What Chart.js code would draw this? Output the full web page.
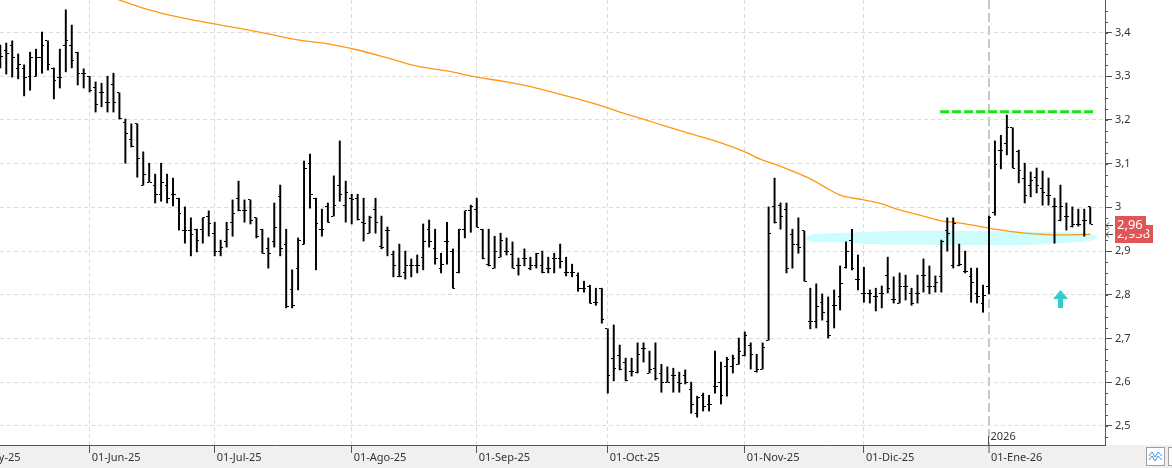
<!DOCTYPE html>
<html lang="es">
<head>
<meta charset="utf-8">
<title>Gráfico diario</title>
<script src="https://cdn.jsdelivr.net/npm/chart.js@4.4.1/dist/chart.umd.min.js"></script>
<style>
  html, body { margin: 0; padding: 0; background: #fff; }
  #wrap { position: relative; width: 1172px; height: 468px; }
</style>
</head>
<body>
<div id="wrap"><canvas id="chart"></canvas></div>
<script>
// ---- datos (barras diarias, desde 12-May-25 hasta 27-Ene-26) ----
const opens = [
  3.344,3.360,3.371,3.317,3.317,3.300,3.300,3.342,3.381,3.317,
  3.296,3.371,3.371,3.355,3.307,3.300,3.275,3.262,3.241,3.282,
  3.262,3.195,3.156,3.191,3.051,3.058,3.051,3.030,3.051,3.030,
  3.021,2.946,2.946,2.950,2.950,2.980,2.941,2.900,2.921,2.966,
  3.021,2.992,3.017,2.976,2.950,2.905,2.921,3.024,2.916,2.811,
  2.861,2.916,3.101,3.021,2.950,3.001,2.980,3.051,3.005,3.021,
  3.021,2.966,2.941,2.996,2.911,2.946,2.891,2.841,2.850,2.866,
  2.866,2.886,2.950,2.905,2.861,2.921,2.900,2.850,2.950,2.992,
  2.996,2.950,2.870,2.861,2.886,2.900,2.891,2.866,2.882,2.861,
  2.866,2.866,2.861,2.882,2.882,2.850,2.850,2.845,2.815,2.818,
  2.783,2.815,2.722,2.655,2.660,2.644,2.625,2.623,2.678,2.621,
  2.632,2.621,2.600,2.616,2.600,2.616,2.584,2.529,2.570,2.550,
  2.589,2.600,2.635,2.635,2.641,2.660,2.685,2.625,2.630,2.696,
  3.001,3.005,2.996,2.937,2.916,2.946,2.738,2.738,2.783,2.738,
  2.776,2.795,2.863,2.925,2.836,2.802,2.802,2.795,2.804,2.845,
  2.790,2.781,2.820,2.804,2.802,2.845,2.820,2.820,2.841,2.946,
  2.866,2.866,2.854,2.841,2.802,2.781,2.820,2.989,3.131,3.147,
  3.182,3.127,3.067,3.051,3.069,3.042,3.028,3.001,2.969,2.980,
  2.957,2.960,2.971,3.001
];
const highs = [
  3.371,3.376,3.381,3.351,3.326,3.355,3.362,3.401,3.381,3.319,
  3.362,3.452,3.417,3.355,3.317,3.300,3.287,3.284,3.300,3.307,
  3.262,3.202,3.191,3.191,3.127,3.101,3.076,3.101,3.076,3.067,
  3.021,3.001,2.976,2.950,2.976,2.992,2.966,2.925,2.966,3.017,
  3.060,3.017,3.017,2.976,2.950,2.930,3.010,3.051,2.950,2.857,
  2.930,3.106,3.122,3.021,2.996,3.010,3.072,3.152,3.060,3.030,
  3.030,3.021,2.980,3.021,2.980,2.955,2.900,2.916,2.900,2.882,
  2.891,2.962,2.971,2.950,2.895,2.966,2.905,2.950,2.992,3.005,
  3.021,2.950,2.950,2.934,2.941,2.930,2.921,2.884,2.905,2.886,
  2.895,2.900,2.886,2.895,2.916,2.886,2.870,2.850,2.831,2.822,
  2.815,2.815,2.722,2.731,2.685,2.655,2.655,2.690,2.690,2.671,
  2.690,2.641,2.635,2.632,2.623,2.628,2.600,2.568,2.575,2.570,
  2.671,2.646,2.657,2.662,2.701,2.715,2.690,2.664,2.690,3.001,
  3.067,3.010,3.010,2.950,2.976,2.946,2.815,2.825,2.802,2.795,
  2.811,2.866,2.921,2.950,2.891,2.863,2.811,2.815,2.820,2.886,
  2.841,2.850,2.845,2.815,2.845,2.882,2.866,2.843,2.925,2.976,
  2.976,2.916,2.900,2.861,2.861,2.822,2.980,3.152,3.165,3.211,
  3.182,3.131,3.101,3.081,3.090,3.083,3.067,3.021,3.051,3.010,
  3.001,2.996,2.996,3.001
];
const lows = [
  3.319,3.305,3.298,3.294,3.255,3.268,3.300,3.307,3.314,3.248,
  3.273,3.310,3.319,3.280,3.273,3.264,3.218,3.230,3.218,3.218,
  3.202,3.101,3.138,3.069,3.051,3.058,3.010,3.014,3.010,3.003,
  2.948,2.918,2.889,2.898,2.918,2.934,2.889,2.889,2.909,2.934,
  2.992,2.966,2.962,2.930,2.895,2.861,2.909,2.889,2.770,2.770,
  2.811,2.916,2.998,2.857,2.934,2.966,2.980,3.014,2.966,2.962,
  2.971,2.923,2.941,2.941,2.905,2.889,2.841,2.841,2.836,2.841,
  2.850,2.857,2.909,2.870,2.850,2.870,2.815,2.850,2.930,2.943,
  2.955,2.882,2.866,2.861,2.886,2.891,2.861,2.845,2.866,2.857,
  2.861,2.850,2.850,2.850,2.861,2.843,2.841,2.808,2.806,2.781,
  2.776,2.735,2.575,2.603,2.628,2.603,2.614,2.621,2.646,2.621,
  2.605,2.577,2.600,2.577,2.577,2.596,2.529,2.520,2.534,2.534,
  2.575,2.550,2.568,2.621,2.641,2.660,2.630,2.623,2.630,2.696,
  2.964,2.950,2.850,2.861,2.895,2.831,2.722,2.724,2.742,2.701,
  2.724,2.765,2.861,2.857,2.811,2.783,2.781,2.763,2.770,2.804,
  2.781,2.781,2.788,2.776,2.781,2.806,2.802,2.806,2.806,2.900,
  2.861,2.866,2.850,2.783,2.781,2.760,2.802,2.982,3.088,3.120,
  3.090,3.056,3.010,3.024,3.033,3.005,3.005,2.918,2.969,2.948,
  2.955,2.957,2.934,2.962
];
const closes = [
  3.344,3.351,3.342,3.326,3.298,3.342,3.342,3.371,3.326,3.291,
  3.296,3.381,3.337,3.307,3.307,3.268,3.236,3.262,3.241,3.241,
  3.204,3.170,3.140,3.111,3.076,3.058,3.030,3.056,3.021,3.030,
  2.985,2.946,2.939,2.925,2.976,2.962,2.900,2.909,2.950,2.985,
  2.992,2.992,2.971,2.934,2.895,2.895,2.955,2.905,2.774,2.776,
  2.925,3.090,3.030,2.962,2.950,2.966,3.005,3.030,3.035,3.017,
  2.973,2.962,2.976,2.966,2.909,2.946,2.866,2.841,2.866,2.866,
  2.866,2.921,2.921,2.882,2.870,2.921,2.815,2.950,2.992,3.001,
  2.955,2.882,2.866,2.900,2.925,2.900,2.861,2.866,2.882,2.866,
  2.895,2.850,2.861,2.882,2.875,2.850,2.850,2.815,2.815,2.781,
  2.783,2.744,2.616,2.632,2.630,2.605,2.625,2.664,2.678,2.630,
  2.609,2.600,2.600,2.616,2.596,2.600,2.550,2.564,2.545,2.550,
  2.589,2.570,2.653,2.655,2.671,2.706,2.664,2.630,2.680,2.941,
  2.966,2.980,2.861,2.916,2.909,2.831,2.738,2.774,2.760,2.706,
  2.776,2.825,2.900,2.861,2.836,2.802,2.802,2.795,2.804,2.815,
  2.790,2.820,2.820,2.779,2.802,2.845,2.820,2.829,2.923,2.941,
  2.964,2.870,2.854,2.827,2.795,2.799,2.976,3.097,3.131,3.182,
  3.090,3.085,3.028,3.062,3.051,3.033,3.028,3.001,3.001,2.980,
  2.960,2.960,2.971,2.960
];

// media móvil (lecturas sobre el gráfico, índice de barra -> valor)
const maIdx  = [19, 25, 30, 35, 40, 45, 50, 55, 60, 65, 70, 75, 80, 85, 90, 95, 100, 105, 110, 115, 120, 125, 128, 130, 133, 136, 139, 141, 145, 148, 151, 155, 158, 160, 163, 167, 172, 178, 183];
const maVals = [3.479, 3.452, 3.435, 3.422, 3.410, 3.397, 3.383, 3.374, 3.360, 3.342, 3.323, 3.312, 3.298, 3.287, 3.273, 3.255, 3.236, 3.214, 3.193, 3.172, 3.152, 3.127, 3.108, 3.099, 3.083, 3.065, 3.042, 3.028, 3.017, 3.008, 2.994, 2.980, 2.969, 2.966, 2.960, 2.950, 2.941, 2.937, 2.938];

// eje x: primer día de cada mes
const monthIdx = [-6, 15, 36, 59, 80, 102, 125, 145, 166];
const monthLabels = ['01-May-25', '01-Jun-25', '01-Jul-25', '01-Ago-25', '01-Sep-25', '01-Oct-25', '01-Nov-25', '01-Dic-25', '01-Ene-26'];
const yearIdx = 166;
const yearLabel = '2026';

// eje y
const yTicks = [2.5, 2.6, 2.7, 2.8, 2.9, 3.0, 3.1, 3.2, 3.3, 3.4];
const yTickLabels = ['2,5', '2,6', '2,7', '2,8', '2,9', '3', '3,1', '3,2', '3,3', '3,4'];

// dibujos: resistencia, zona de soporte, flecha
const resistIdx = [157.8, 183.5];
const resistPrice = 3.219;
const bandIdx    = [135.3, 136.8, 140.2, 144.4, 150.3, 161.2, 171.3, 178, 182.7, 184.2];
const bandTop    = [2.933, 2.939, 2.941, 2.943, 2.946, 2.946, 2.945, 2.943, 2.941, 2.934];
const bandBottom = [2.925, 2.921, 2.920, 2.917, 2.915, 2.914, 2.914, 2.918, 2.923, 2.930];
const arrowIdx = 178;
const arrowPrice = 2.79;

// etiquetas de precio
const lastPrice = 2.96, lastPriceLabel = '2,96';
const maLast = 2.938, maLastLabel = '2,938';

const FONT = '"Noto Sans", "Open Sans", sans-serif';

// marcas de apertura / cierre
function tickImage(side) {
  const c = document.createElement('canvas');
  c.width = 5; c.height = 1;
  const g = c.getContext('2d');
  g.fillStyle = '#000';
  g.fillRect(side === 'left' ? 0 : 3, 0, 2, 1);
  return c;
}

function arrowImage() {
  const c = document.createElement('canvas');
  c.width = 15; c.height = 18;
  const g = c.getContext('2d');
  g.fillStyle = '#33cccc';
  g.beginPath();
  g.moveTo(7.5, 0); g.lineTo(15, 9); g.lineTo(0, 9);
  g.closePath(); g.fill();
  g.fillRect(5, 9, 5, 9);
  return c;
}

function priceTag(ctx, x0, py, text) {
  py = Math.round(py);
  ctx.font = '13px ' + FONT;
  const w = Math.round(ctx.measureText(text).width) + 5;
  ctx.fillStyle = '#e05656';
  ctx.fillRect(x0 + 10, py - 9, w, 18);
  ctx.fillStyle = '#fff';
  ctx.textAlign = 'left';
  ctx.textBaseline = 'middle';
  ctx.fillText(text, x0 + 12, py);
  ctx.strokeStyle = '#444';
  ctx.lineWidth = 1;
  ctx.beginPath();
  ctx.moveTo(x0 + 1, py + 0.5); ctx.lineTo(x0 + 8, py + 0.5);
  ctx.moveTo(x0 + 4, py - 2.5); ctx.lineTo(x0 + 1, py + 0.5); ctx.lineTo(x0 + 4, py + 3.5);
  ctx.stroke();
}

const isYear = c => c.tick && c.tick.value === yearIdx;

const decorPlugin = {
  id: 'decor',
  beforeDraw(chart) {
    const { ctx, width, height, chartArea } = chart;
    ctx.save();
    ctx.fillStyle = '#fff';
    ctx.fillRect(0, 0, width, height);
    ctx.fillStyle = '#f0f0f0';
    ctx.fillRect(0, chartArea.bottom, width, height - chartArea.bottom);
    ctx.restore();
  },
  beforeDatasetsDraw(chart) { chart.ctx.imageSmoothingEnabled = false; },
  afterDatasetsDraw(chart) { chart.ctx.imageSmoothingEnabled = true; },
  afterDraw(chart) {
    const { ctx, chartArea, scales: { x, y } } = chart;
    ctx.save();
    // marcas menores del eje y
    ctx.strokeStyle = '#555';
    ctx.lineWidth = 1;
    ctx.beginPath();
    for (let v = 2.475; v < 3.47; v += 0.025) {
      const py = Math.round(y.getPixelForValue(v)) + 0.5;
      ctx.moveTo(chartArea.right, py);
      ctx.lineTo(chartArea.right + 3, py);
    }
    ctx.stroke();
    // cambio de año
    const yx = Math.round(x.getPixelForValue(yearIdx)) - 0.5;
    ctx.beginPath();
    ctx.moveTo(yx, chartArea.bottom - 9);
    ctx.lineTo(yx, chartArea.bottom);
    ctx.stroke();
    ctx.fillStyle = '#333';
    ctx.font = '11px ' + FONT;
    ctx.textBaseline = 'middle';
    ctx.fillText(yearLabel, yx + 2, chartArea.bottom - 8);
    // etiquetas de precio
    priceTag(ctx, chartArea.right, y.getPixelForValue(maLast), maLastLabel);
    priceTag(ctx, chartArea.right, y.getPixelForValue(lastPrice), lastPriceLabel);
    // iconos esquina
    ctx.fillStyle = '#fff';
    ctx.strokeStyle = '#a0a0a0';
    ctx.fillRect(1146, 447, 19, 19);
    ctx.strokeRect(1146.5, 447.5, 18, 18);
    ctx.fillRect(1168, 447, 6, 19);
    ctx.strokeRect(1168.5, 447.5, 8, 18);
    ctx.strokeStyle = '#4a90d9';
    ctx.beginPath();
    ctx.moveTo(1149, 456); ctx.lineTo(1152, 452); ctx.lineTo(1155, 457); ctx.lineTo(1158, 452); ctx.lineTo(1162, 456);
    ctx.moveTo(1149, 460); ctx.lineTo(1152, 456); ctx.lineTo(1155, 461); ctx.lineTo(1158, 456); ctx.lineTo(1162, 460);
    ctx.stroke();
    ctx.restore();
  }
};

const openImg = tickImage('left');
const closeImg = tickImage('right');

new Chart(document.getElementById('chart'), {
  type: 'line',
  data: {
    datasets: [
      {
        label: 'Resistencia',
        data: resistIdx.map(i => ({ x: i, y: resistPrice })),
        borderColor: '#14e614',
        borderWidth: 3,
        borderDash: [9, 3],
        pointRadius: 0,
        order: 0
      },
      {
        label: 'Flecha',
        data: [{ x: arrowIdx, y: arrowPrice }],
        showLine: false,
        pointStyle: arrowImage(),
        pointRadius: 8,
        order: 0
      },
      {
        label: 'Apertura',
        data: opens.map((v, i) => ({ x: i, y: v })),
        showLine: false,
        pointStyle: openImg,
        pointRadius: 2,
        order: 1
      },
      {
        label: 'Cierre',
        data: closes.map((v, i) => ({ x: i, y: v })),
        showLine: false,
        pointStyle: closeImg,
        pointRadius: 2,
        order: 1
      },
      {
        type: 'bar',
        label: 'Rango',
        data: lows.map((lo, i) => ({ x: i, y: [lo, highs[i]] })),
        backgroundColor: '#000',
        borderWidth: 0,
        barThickness: 1.3,
        order: 2
      },
      {
        label: 'Media',
        data: maIdx.map((i, k) => ({ x: i, y: maVals[k] })),
        borderColor: '#ff9811',
        borderWidth: 1.3,
        pointRadius: 0,
        cubicInterpolationMode: 'monotone',
        order: 3
      },
      {
        label: 'Zona sup',
        data: bandIdx.map((i, k) => ({ x: i, y: bandTop[k] })),
        borderWidth: 0,
        pointRadius: 0,
        tension: 0.4,
        fill: '+1',
        backgroundColor: '#ccfcfc',
        order: 5
      },
      {
        label: 'Zona inf',
        data: bandIdx.map((i, k) => ({ x: i, y: bandBottom[k] })),
        borderWidth: 0,
        pointRadius: 0,
        tension: 0.4,
        fill: false,
        order: 5
      }
    ]
  },
  options: {
    responsive: true,
    maintainAspectRatio: false,
    animation: false,
    devicePixelRatio: 1,
    events: [],
    layout: { padding: 0, autoPadding: false },
    plugins: {
      legend: { display: false },
      tooltip: { enabled: false }
    },
    scales: {
      x: {
        type: 'linear',
        min: -0.05,
        max: 185.48,
        offset: false,
        afterBuildTicks: s => { s.ticks = monthIdx.map(v => ({ value: v })); },
        afterFit: s => { s.height = 23; s.paddingLeft = 0; s.paddingRight = 0; },
        ticks: {
          autoSkip: false,
          maxRotation: 0,
          minRotation: 0,
          align: 'start',
          labelOffset: 2,
          padding: -2,
          color: '#333',
          font: { family: FONT, size: 11 },
          callback: (v, i) => monthLabels[i]
        },
        grid: {
          offset: false,
          color: c => isYear(c) ? '#c8c8c8' : '#dcdcdc',
          lineWidth: c => isYear(c) ? 2 : 1,
          tickLength: 8,
          tickColor: '#555',
          tickWidth: 1
        },
        border: {
          display: true,
          color: '#555',
          width: 1,
          dash: c => isYear(c) ? [9, 4] : [4, 3]
        }
      },
      y: {
        type: 'linear',
        position: 'right',
        min: 2.4563,
        max: 3.4744,
        afterBuildTicks: s => { s.ticks = yTicks.map(v => ({ value: v })); },
        afterFit: s => { s.width = 67; s.paddingTop = 0; s.paddingBottom = 0; },
        ticks: {
          padding: 3,
          color: '#333',
          font: { family: FONT, size: 11 },
          callback: (v, i) => yTickLabels[i]
        },
        grid: {
          color: '#dcdcdc',
          lineWidth: 1,
          tickLength: 7,
          tickColor: '#555',
          tickWidth: 1
        },
        border: { display: true, color: '#555', width: 1, dash: [4, 3] }
      }
    }
  },
  plugins: [decorPlugin]
});
</script>
</body>
</html>
